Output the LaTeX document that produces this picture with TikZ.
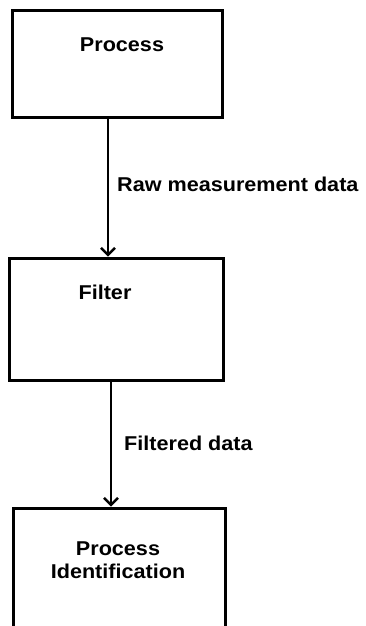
\documentclass[tikz,border=0pt]{standalone}
\usepackage{fontspec}
\setmainfont{Liberation Sans}[FakeStretch=1.08]
\usetikzlibrary{arrows.meta}
\begin{document}
\begin{tikzpicture}[x=1pt,y=-1pt,
  box/.style={draw=black, line width=3pt, rectangle, inner sep=0pt},
  lbl/.style={font=\bfseries\fontsize{20}{23}\selectfont, inner sep=0pt},
  arr/.style={line width=2.8pt, -{Straight Barb[length=7pt,width=14pt,line width=2.4pt]}}]
\useasboundingbox (0,0) rectangle (366,626);
\clip (0,0) rectangle (366,626);
\node[box, minimum width=210pt, minimum height=106pt] (proc) at (117,64) {};
\node[box, minimum width=214pt, minimum height=122pt] (filt) at (116,319) {};
\node[box, minimum width=212pt, minimum height=160pt] (ident) at (119,588) {};
\node[lbl] (t1) at (122,45) {Process};
\node[lbl] (t2) at (105,292) {Filter};
\node[lbl, align=center] (t3) at (118,560) {Process\\Identification};
\draw[arr] ([xshift=-9pt]proc.south) -- ([xshift=-8pt]filt.north);
\node[lbl, anchor=west] (l1) at (117,184) {Raw measurement data};
\draw[arr] ([xshift=-5pt]filt.south) -- ([xshift=-8pt]ident.north);
\node[lbl, anchor=west] (l2) at (124,443) {Filtered data};
\end{tikzpicture}
\end{document}
